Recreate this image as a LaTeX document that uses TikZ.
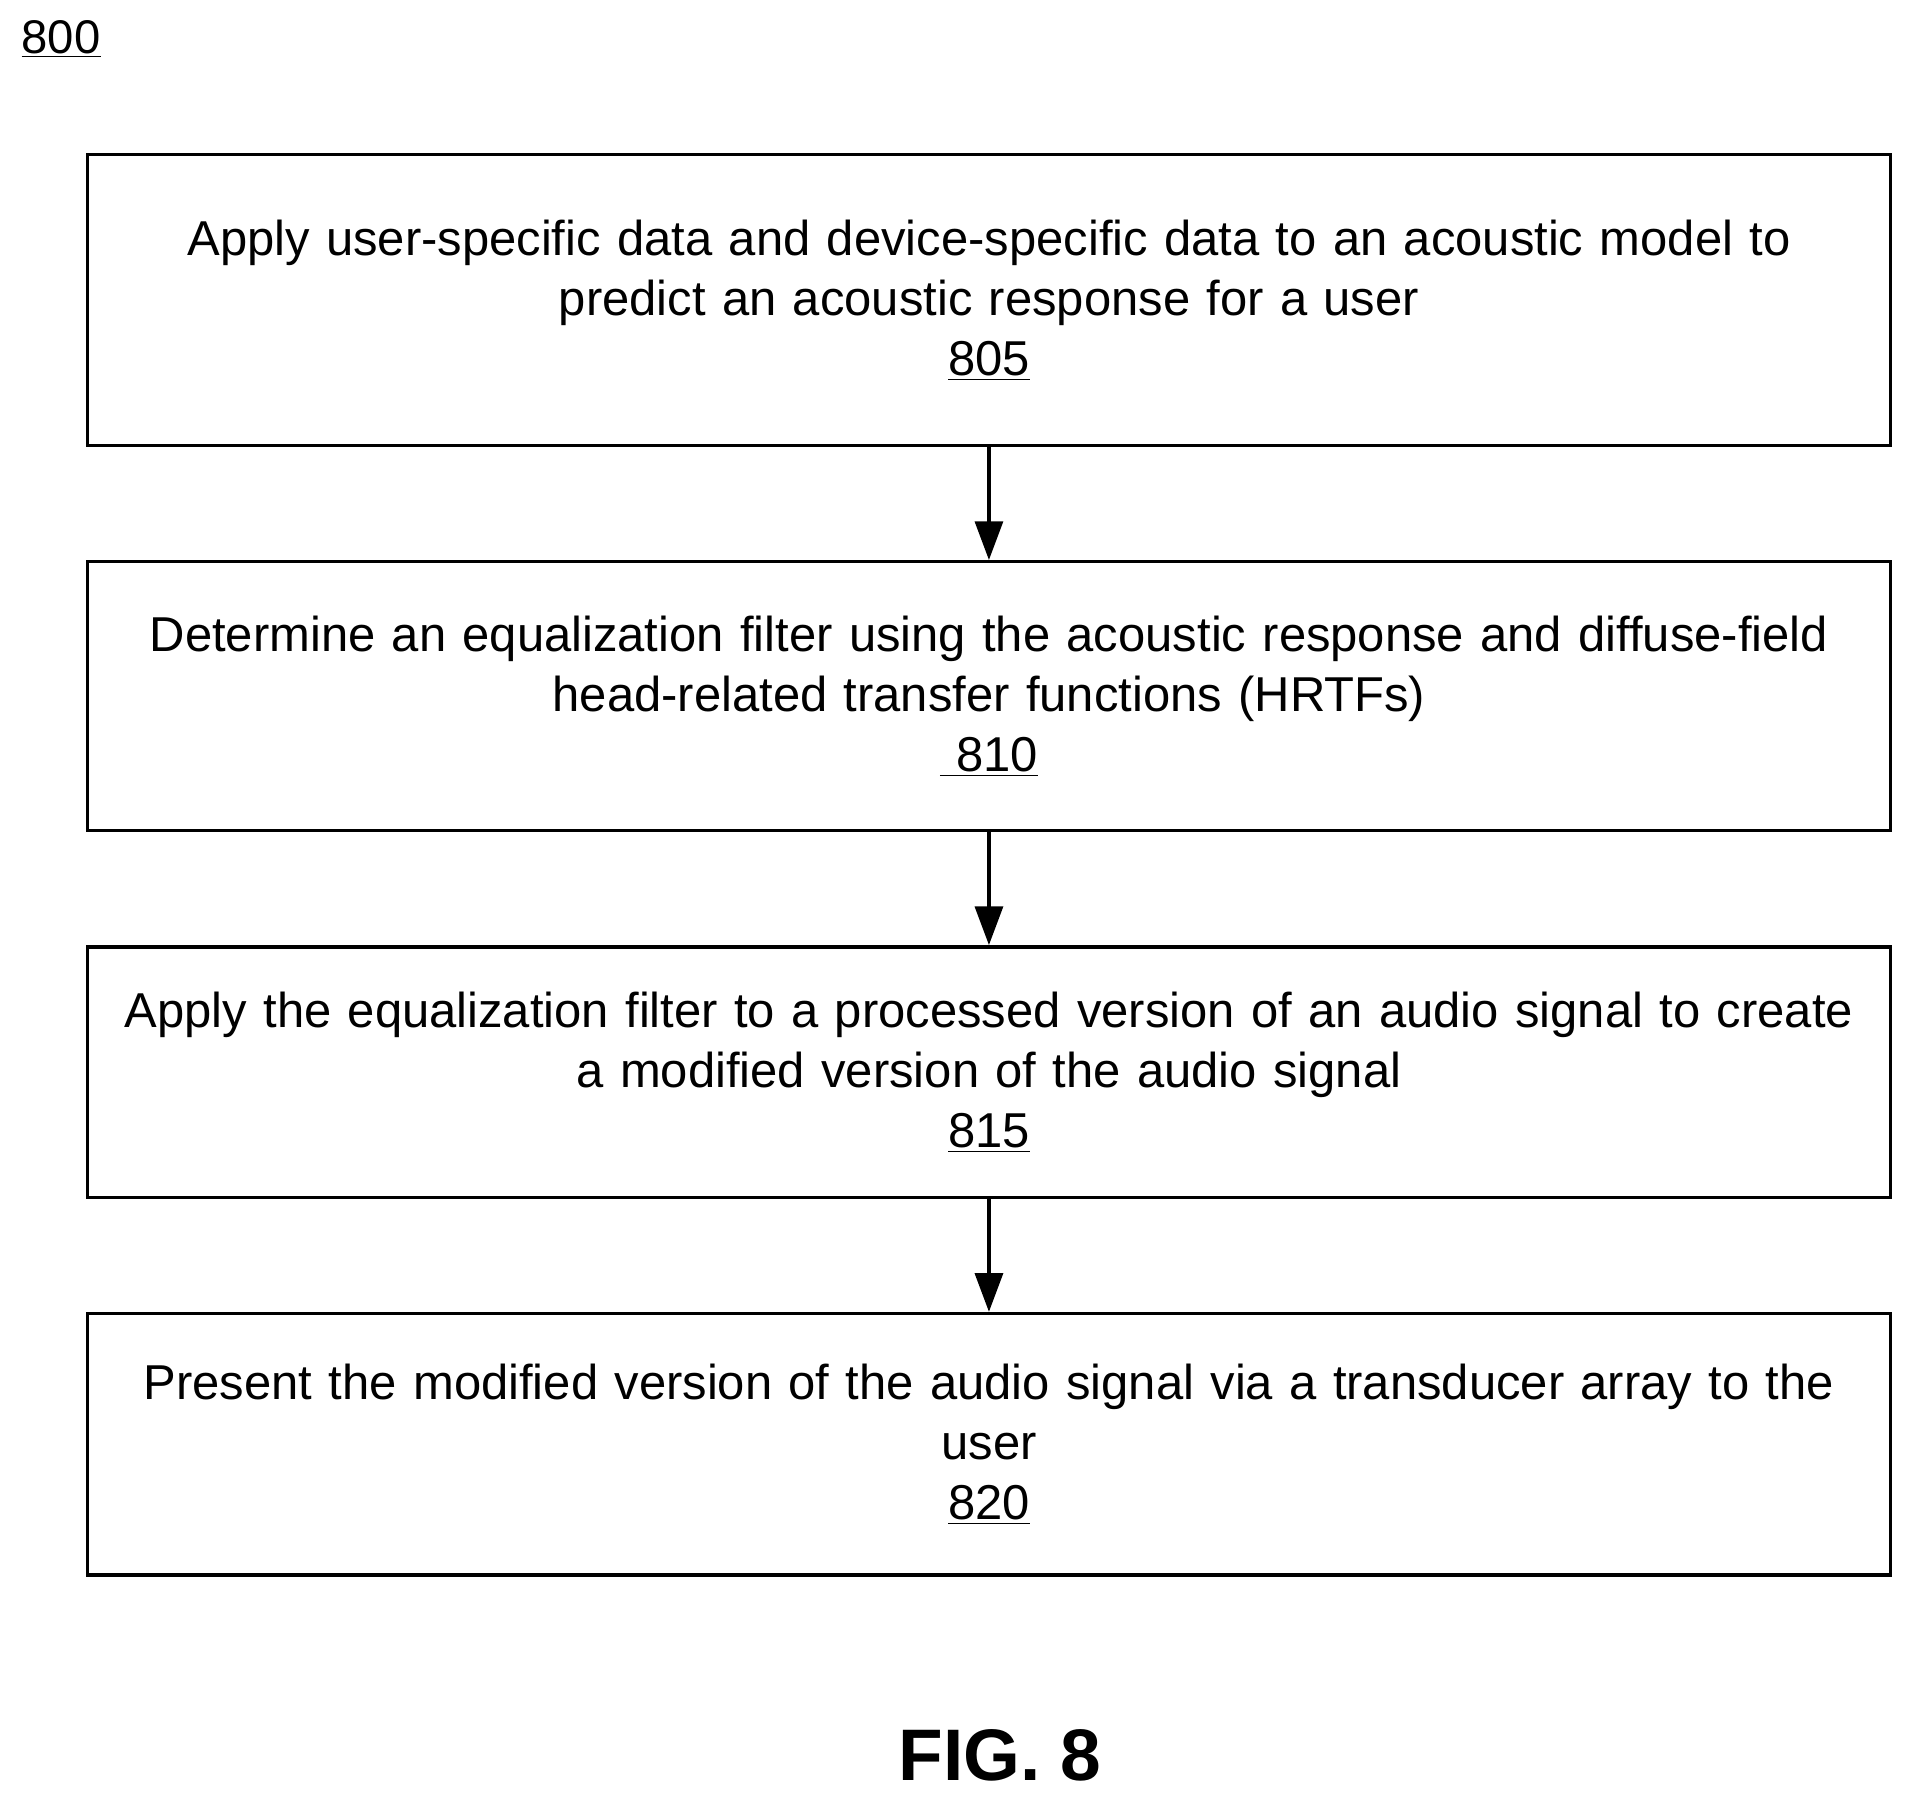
\documentclass[tikz,border=0pt]{standalone}
\usepackage{fontspec}
\setmainfont{Liberation Sans}
\usetikzlibrary{arrows.meta,positioning}

\tikzset{
  flowbox/.style={draw,line width=1.6pt,minimum width=29.5cm,text width=29.2cm,align=center,
    font=\fontsize{22.8}{28}\selectfont},
  flow/.style={-{Triangle[length=18pt,width=13pt]},line width=1.6pt}
}

\begin{document}
\begin{tikzpicture}[x=0.02cm,y=-0.02cm]
\useasboundingbox (0,0) rectangle (1560,1473);
\node[font=\fontsize{22}{24}\selectfont] (fig) at (50,32) {\underline{800}};
\node[flowbox,minimum height=4.76cm] (s805) at (809,245.5)
  {Apply user-specific data and device-specific data to an acoustic model to\\predict an acoustic response for a user\\\underline{805}};
\node[flowbox,minimum height=4.4cm] (s810) at (809,569.5)
  {Determine an equalization filter using the acoustic response and diffuse-field\\head-related transfer functions (HRTFs)\\\underline{\ 810}};
\node[flowbox,minimum height=4.1cm] (s815) at (809,877)
  {Apply the equalization filter to a processed version of an audio signal to create\\a modified version of the audio signal\\\underline{815}};
\node[flowbox,minimum height=4.28cm] (s820) at (809,1181.5)
  {Present the modified version of the audio signal via a transducer array to the\\user\\\underline{820}};
\draw[flow] (s805) -- (s810);
\draw[flow] (s810) -- (s815);
\draw[flow] (s815) -- (s820);
\node[font=\bfseries\fontsize{34}{36}\selectfont] (cap) at (818,1436) {FIG. 8};
\end{tikzpicture}
\end{document}
